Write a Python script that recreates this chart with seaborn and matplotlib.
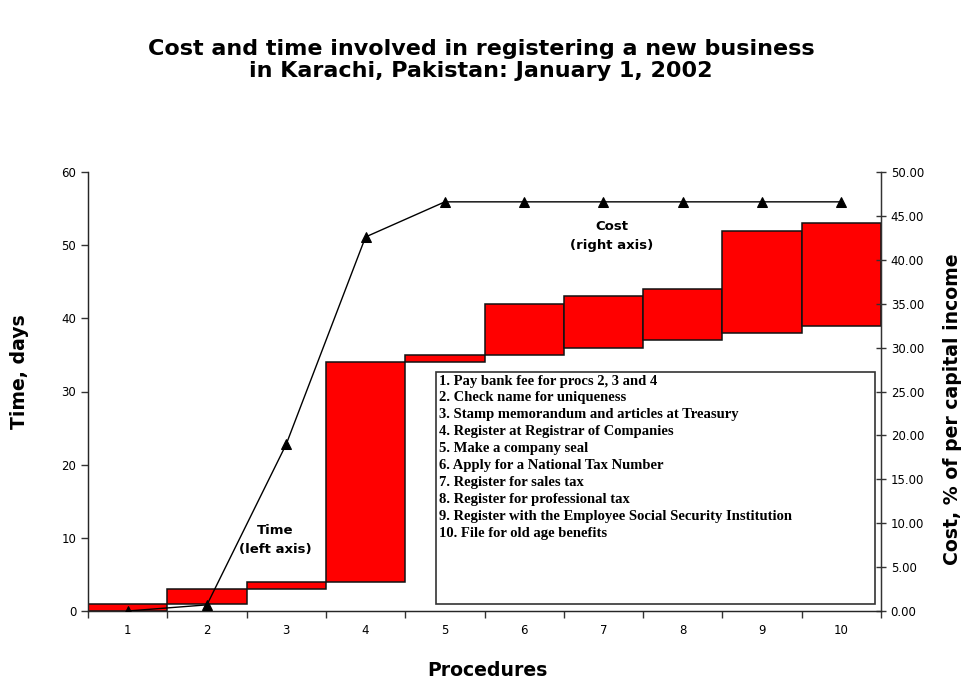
import matplotlib
matplotlib.use("Agg")
import matplotlib.pyplot as plt
from matplotlib.patches import Rectangle
from matplotlib.ticker import FixedLocator, FormatStrFormatter
import seaborn as sns
import numpy as np

# ---- data ----
procedures = [1, 2, 3, 4, 5, 6, 7, 8, 9, 10]
time_start = [0, 1, 3, 4, 34, 35, 36, 37, 38, 39]
time_end = [1, 3, 4, 34, 35, 42, 43, 44, 52, 53]
cost_cum = [0.0, 0.7, 19.0, 42.6, 46.6, 46.6, 46.6, 46.6, 46.6, 46.6]
legend_lines = [
    "1. Pay bank fee for procs 2, 3 and 4",
    "2. Check name for uniqueness",
    "3. Stamp memorandum and articles at Treasury",
    "4. Register at Registrar of Companies",
    "5. Make a company seal",
    "6. Apply for a National Tax Number",
    "7. Register for sales tax",
    "8. Register for professional tax",
    "9. Register with the Employee Social Security Institution",
    "10. File for old age benefits",
]
title = "Cost and time involved in registering a new business\nin Karachi, Pakistan: January 1, 2002"

sns.set_style("white")
plt.rcParams['font.family'] = ['DejaVu Sans']
plt.rcParams['text.color'] = 'black'
plt.rcParams['axes.labelcolor'] = 'black'
plt.rcParams['xtick.color'] = 'black'
plt.rcParams['ytick.color'] = 'black'

fig = plt.figure(figsize=(9.61, 6.80), dpi=100)
ax = fig.add_axes([88/961, 1-611/680, 793/961, 439/680])

durations = np.array(time_end) - np.array(time_start)
ax.bar(procedures, durations, bottom=time_start, width=1.0, color="#ff0000",
       edgecolor="#111111", linewidth=1.1, zorder=2)
ax.set_xlim(0.5, 10.5)
ax.set_ylim(0, 60)
ax.set_yticks([0, 10, 20, 30, 40, 50, 60])
ax.set_xticks(procedures)
ax.xaxis.set_minor_locator(FixedLocator(np.arange(0.5, 11.0, 1.0)))
ax.tick_params(axis='x', which='major', length=0, pad=9, labelsize=8.5)
ax.tick_params(axis='x', which='minor', length=5, width=1, direction='out', color='#333333', bottom=True)
ax.tick_params(axis='y', which='major', length=5, width=1, direction='out', labelsize=8.5, left=True, color='#333333')
ax.spines['top'].set_visible(False)
for s in ['left', 'bottom', 'right']:
    ax.spines[s].set_color('#333333')
    ax.spines[s].set_linewidth(1.0)

ax2 = ax.twinx()
sns.lineplot(x=procedures, y=cost_cum, ax=ax2, color='black', linewidth=1.0,
             marker='^', markersize=7.5, markeredgecolor='black', markerfacecolor='black', zorder=5)
ax2.set_ylim(0, 50)
ax2.set_yticks(np.arange(0, 50.1, 5))
ax2.yaxis.set_major_formatter(FormatStrFormatter('%.2f'))
ax2.tick_params(axis='y', which='major', length=7, width=1, direction='inout', labelsize=8.5, right=True, color='#333333')
ax2.spines['top'].set_visible(False)
ax2.spines['right'].set_color('#333333')
ax2.set_xlim(0.5, 10.5)

# legend box of procedures
ax.add_patch(Rectangle((348/793, 7/439), 439/793, 232/439, transform=ax.transAxes,
                       facecolor='white', edgecolor='#333333', linewidth=1.2, zorder=4))
for i, line in enumerate(legend_lines):
    ax.text(351/793, (611-381-i*16.9)/439, line, transform=ax.transAxes,
            family=['Liberation Serif'], fontweight='bold', fontsize=10.5,
            va='center', ha='left', zorder=6)

px = fig.dpi_scale_trans
ax.text(275/100, (680-540)/100, "Time\n(left axis)", transform=px, ha='center', va='center',
        fontsize=9.5, fontweight='bold', linespacing=1.65)
ax.text(612/100, (680-236)/100, "Cost\n(right axis)", transform=px,
        ha='center', va='center', fontsize=9.5, fontweight='bold', linespacing=1.65)

fig.text(481/961, 1-60/680, title, ha='center', va='center', fontsize=16.0,
         fontweight='bold', linespacing=1.12)
fig.text(20/961, 1-372/680, "Time, days", rotation=90, ha='center', va='center',
         fontsize=13.6, fontweight='bold')
fig.text(953/961, 1-409/680, "Cost, % of per capital income", rotation=90, ha='center',
         va='center', fontsize=13.6, fontweight='bold')
fig.text(487/961, 1-670/680, "Procedures", ha='center', va='center', fontsize=13.6,
         fontweight='bold')

fig.savefig("out.png", dpi=100)
